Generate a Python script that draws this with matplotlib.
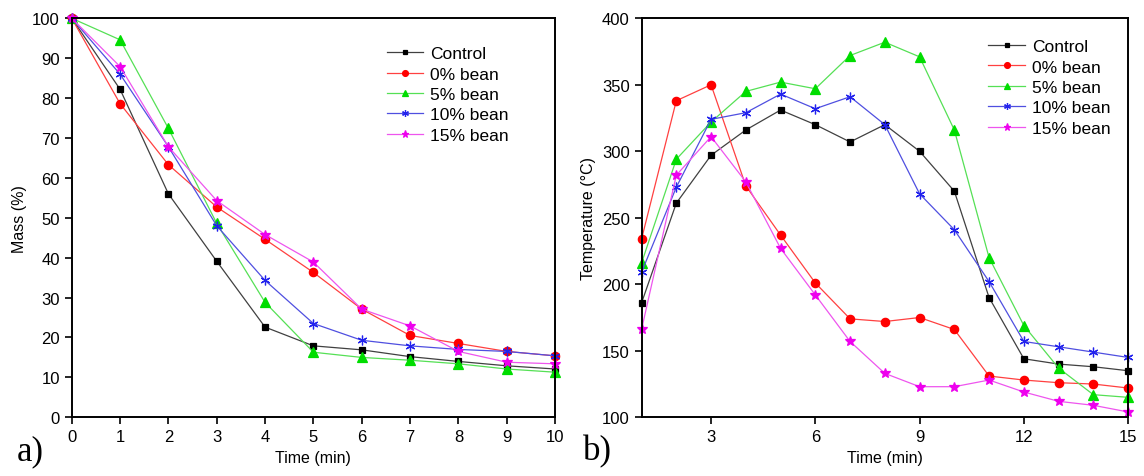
import matplotlib.pyplot as plt

plt.rcParams['font.family'] = ['Liberation Sans', 'DejaVu Sans']

# mass loss over time (left panel)
time_mass = [0, 1, 2, 3, 4, 5, 6, 7, 8, 9, 10]
mass_control = [100, 82.2, 56.0, 39.1, 22.6, 17.9, 16.9, 15.2, 14.0, 12.9, 12.1]
mass_0 = [100, 78.6, 63.3, 52.7, 44.6, 36.3, 27.1, 20.5, 18.5, 16.5, 15.4]
mass_5 = [100, 94.6, 72.4, 48.6, 28.8, 16.3, 15.0, 14.3, 13.4, 12.1, 11.3]
mass_10 = [100, 86.0, 67.8, 48.0, 34.3, 23.5, 19.3, 17.9, 17.0, 16.5, 15.4]
mass_15 = [100, 87.9, 67.8, 54.3, 45.8, 38.9, 27.1, 22.9, 16.5, 13.8, 13.4]

# temperature over time (right panel)
time_temp = list(range(1, 16))
temp_control = [186, 261, 297, 316, 331, 320, 307, 320, 300, 270, 190, 144, 140, 138, 135]
temp_0 = [234, 338, 350, 274, 237, 201, 174, 172, 175, 166, 131, 128, 126, 125, 122]
temp_5 = [216, 294, 322, 345, 352, 347, 372, 382, 371, 316, 220, 169, 137, 117, 115]
temp_10 = [209, 273, 324, 329, 343, 332, 341, 320, 268, 241, 202, 157, 153, 149, 145]
temp_15 = [166, 282, 311, 277, 227, 192, 157, 133, 123, 123, 128, 119, 112, 109, 104]

labels = ['Control', '0% bean', '5% bean', '10% bean', '15% bean']
# (line colour, marker colour, marker, size)
styles = [
    ('#404040', '#000000', 's', 5),
    ('#ff4040', '#ff0000', 'o', 6),
    ('#55e055', '#00dd00', '^', 6.5),
    ('#4f4fe0', '#2222ee', (6, 2, 0), 7),
    ('#ee55ee', '#ee00ee', '*', 7.5),
]

fig = plt.figure(figsize=(11.44, 4.77), dpi=100)
ax1 = fig.add_axes([0.0627, 0.1231, 0.4225, 0.8365])
ax2 = fig.add_axes([0.5608, 0.1231, 0.4253, 0.8365])


def draw(ax, xs, series):
    for ys, lab, (lc, mc, mk, ms) in zip(series, labels, styles):
        ax.plot(xs, ys, label=lab, lw=0.9, color=lc, marker=mk, ms=ms,
                mfc=mc, mec=mc, mew=0.9, clip_on=False)


draw(ax1, time_mass, [mass_control, mass_0, mass_5, mass_10, mass_15])
draw(ax2, time_temp, [temp_control, temp_0, temp_5, temp_10, temp_15])

ax1.set_xlim(0, 10)
ax1.set_ylim(0, 100)
ax1.set_xticks(range(0, 11))
ax1.set_yticks(range(0, 101, 10))
ax1.set_xlabel('Time (min)', fontsize=11.5)
ax1.set_ylabel('Mass (%)', fontsize=11.5)

ax2.set_xlim(1, 15)
ax2.set_ylim(100, 400)
ax2.set_xticks([3, 6, 9, 12, 15])
ax2.set_yticks(range(100, 401, 50))
ax2.set_xlabel('Time (min)', fontsize=11.5)
ax2.set_ylabel('Temperature (°C)', fontsize=11.5)

for ax in (ax1, ax2):
    for sp in ax.spines.values():
        sp.set_linewidth(1.4)
    ax.tick_params(direction='out', length=5, width=1.2, labelsize=12)

ax1.legend(loc='upper left', bbox_to_anchor=(0.652, 0.93), frameon=False,
           fontsize=12.5, borderpad=0, borderaxespad=0, labelspacing=0.3,
           handlelength=2.1, handletextpad=0.4, markerscale=0.7)
ax2.legend(loc='upper left', bbox_to_anchor=(0.713, 0.948), frameon=False,
           fontsize=12.5, borderpad=0, borderaxespad=0, labelspacing=0.3,
           handlelength=2.1, handletextpad=0.4, markerscale=0.7)

fig.text(0.0149, 0.0356, 'a)', family=['Liberation Serif'], fontsize=25)
fig.text(0.5100, 0.0356, 'b)', family=['Liberation Serif'], fontsize=25)

fig.savefig('out.png', dpi=100)
